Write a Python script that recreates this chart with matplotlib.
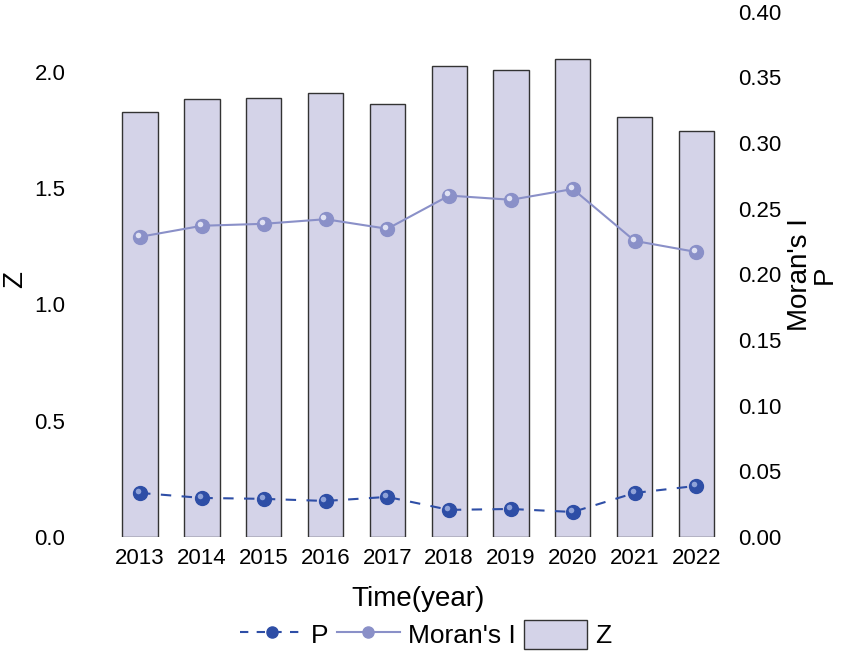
import matplotlib
matplotlib.use('Agg')
import matplotlib.pyplot as plt
import matplotlib.transforms as mtransforms
from matplotlib.lines import Line2D
from matplotlib.patches import Patch
import numpy as np

plt.rcParams['font.family'] = ['Liberation Sans', 'DejaVu Sans']

years = ['2013', '2014', '2015', '2016', '2017', '2018', '2019', '2020', '2021', '2022']
z_vals = [1.828, 1.884, 1.888, 1.910, 1.862, 2.026, 2.009, 2.056, 1.806, 1.746]
moran_i = [0.2286, 0.237, 0.2385, 0.242, 0.2347, 0.260, 0.2568, 0.265, 0.2255, 0.217]
p_vals = [0.0335, 0.0297, 0.029, 0.0274, 0.0305, 0.0206, 0.0213, 0.019, 0.0335, 0.0389]

bar_color = '#d4d3e8'
moran_color = '#8a90c8'
p_color = '#2e4ea6'

fig = plt.figure(figsize=(8.51, 6.54), dpi=100)
ax = fig.add_axes([0.121, 0.179, 0.741, 0.803])
x = np.arange(len(years))

ax.bar(x, z_vals, width=0.57, color=bar_color, edgecolor='#333333', linewidth=1.0, zorder=1)
ax.set_xlim(-0.6, len(years) - 0.4)
ax.set_ylim(0, 2.258)
ax.set_yticks([0.0, 0.5, 1.0, 1.5, 2.0])
ax.set_yticklabels(['0.0', '0.5', '1.0', '1.5', '2.0'])
ax.set_xticks(x)
ax.set_xticklabels(years)
ax.tick_params(axis='x', length=0, labelsize=16, pad=8)
ax.tick_params(axis='y', length=0, labelsize=16, pad=27)
for s in ax.spines.values():
    s.set_visible(False)
ax.set_xlabel('Time(year)', fontsize=20, labelpad=12)
ax.set_ylabel('Z', fontsize=20)
ax.yaxis.set_label_coords(-0.118, 0.49)

ax2 = ax.twinx()
ax2.set_ylim(0, 0.40)
ax2.set_yticks(np.arange(0, 0.41, 0.05))
ax2.set_yticklabels(['%.2f' % v for v in np.arange(0, 0.41, 0.05)])
ax2.tick_params(length=0, labelsize=16, pad=3)
for s in ax2.spines.values():
    s.set_visible(False)
ax2.set_ylabel("Moran's I\nP", fontsize=20, labelpad=4, linespacing=0.95)

ax2.plot(x, moran_i, color=moran_color, lw=1.5, marker='o', ms=10,
         mfc=moran_color, mec=moran_color, zorder=3)
ax2.plot(x, p_vals, color=p_color, lw=1.5, ls=(0, (5, 5)), marker='o', ms=10,
         mfc=p_color, mec=p_color, zorder=3)

# small highlight on each marker to get the shaded-ball look
shift = mtransforms.ScaledTranslation(-1.5 / 72, 1.5 / 72, fig.dpi_scale_trans)
ax2.plot(x, moran_i, ls='none', marker='o', ms=4, mfc='#dfe1f3', mec='none',
         transform=ax2.transData + shift, zorder=4)
ax2.plot(x, p_vals, ls='none', marker='o', ms=4, mfc='#8fa2d8', mec='none',
         transform=ax2.transData + shift, zorder=4)

handles = [
    Line2D([], [], color=p_color, lw=1.5, ls=(0, (4, 4)), marker='o', ms=8, mfc=p_color, mec=p_color),
    Line2D([], [], color=moran_color, lw=1.5, marker='o', ms=8, mfc=moran_color, mec=moran_color),
    Patch(facecolor=bar_color, edgecolor='#333333', linewidth=1.0),
]
fig.legend(handles, ['P', "Moran's I", 'Z'], loc='center', bbox_to_anchor=(0.5, 0.03),
           ncol=3, frameon=False, fontsize=19, handlelength=2.4, handleheight=1.3,
           columnspacing=0.3, handletextpad=0.3)

fig.savefig('out.png', dpi=100)
